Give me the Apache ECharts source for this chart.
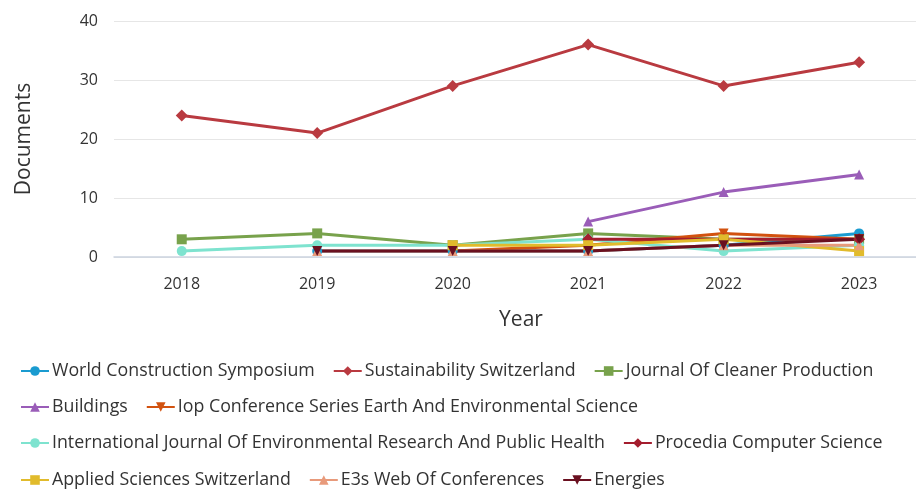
<!DOCTYPE html>
<html><head><meta charset="utf-8">
<script src="https://cdn.jsdelivr.net/npm/echarts@6/dist/echarts.min.js"></script>
<style>html,body{margin:0;padding:0;background:#fff}#c{width:916px;height:490px}</style>
</head><body><div id="c"></div>
<script>
var years = ['2018','2019','2020','2021','2022','2023'];
var yTicks = [0,10,20,30,40];
var names = ['World Construction Symposium','Sustainability Switzerland','Journal Of Cleaner Production','Buildings','Iop Conference Series Earth And Environmental Science','International Journal Of Environmental Research And Public Health','Procedia Computer Science','Applied Sciences Switzerland','E3s Web Of Conferences','Energies'];
var worldConstruction = [null,1,1,1,2,4];
var sustainability = [24,21,29,36,29,33];
var cleanerProduction = [3,4,2,4,3,3];
var buildings = [null,null,null,6,11,14];
var iop = [null,null,1,2,4,3];
var ijerph = [1,2,2,3,1,2];
var procedia = [null,null,null,3,3,3];
var appliedSciences = [null,null,2,2,3,1];
var e3s = [null,1,1,1,2,2];
var energies = [null,1,1,1,2,3];

var values = [worldConstruction,sustainability,cleanerProduction,buildings,iop,ijerph,procedia,appliedSciences,e3s,energies];
var colors = ['#1a9bd0','#b93a40','#78a24c','#9a5db8','#d2520f','#7ee3cf','#a41d2e','#e1bb2c','#e89a7b','#6a1020'];
var symbols = ['circle','diamond','rect','triangle','path://M0,0 L10,0 L5,9 Z','circle','diamond','rect','triangle','path://M0,0 L10,0 L5,9 Z'];
var font = 'Open Sans';
var idx = years.map(function(y,i){return i;});
var series = names.map(function(n,i){
  return {name:n,type:'line',data:values[i].map(function(v,j){return [j,v];}),
    symbol:symbols[i],symbolSize:(symbols[i]==='diamond'?12:10),
    showSymbol:true,connectNulls:false,
    lineStyle:{width:3,color:colors[i]},itemStyle:{color:colors[i]},emphasis:{disabled:true}};
});
function leg(top,data){
  return {top:top,left:15,itemGap:18,itemWidth:28,itemHeight:12,data:data,
    textStyle:{fontFamily:font,fontSize:17.8,color:'#333',padding:[0,0,0,-2]}};
}
var chart = echarts.init(document.getElementById('c'));
chart.setOption({
  animation:false,
  color:colors,
  grid:{left:114,top:21,right:0,bottom:233,containLabel:false},
  legend:[
    leg(357,[names[0],names[1],names[2]]),
    leg(393,[names[3],names[4]]),
    leg(429,[names[5],names[6]]),
    leg(466,[names[7],names[8],names[9]])
  ],
  xAxis:{type:'value',min:-0.5,max:years.length-0.58,
    name:'Year',nameLocation:'middle',nameGap:53,
    nameTextStyle:{fontFamily:font,fontSize:21,color:'#333',padding:[0,0,0,12]},
    axisLine:{onZero:false,lineStyle:{color:'#ccd3e0',width:1.5}},
    axisTick:{show:false},splitLine:{show:false},
    axisLabel:{customValues:idx,formatter:function(v){return years[Math.round(v)];},
      fontFamily:font,fontSize:16,color:'#333',margin:19}},
  yAxis:{type:'value',min:yTicks[0],max:yTicks[yTicks.length-1],interval:10,
    name:'Documents',nameLocation:'middle',nameGap:79,nameRotate:90,
    nameTextStyle:{fontFamily:font,fontSize:21,color:'#333'},
    axisLine:{show:false},axisTick:{show:false},
    axisLabel:{fontFamily:font,fontSize:16,color:'#333',margin:16},
    splitLine:{lineStyle:{color:'#e6e6e6',width:1}}},
  series:series
});
</script></body></html>
